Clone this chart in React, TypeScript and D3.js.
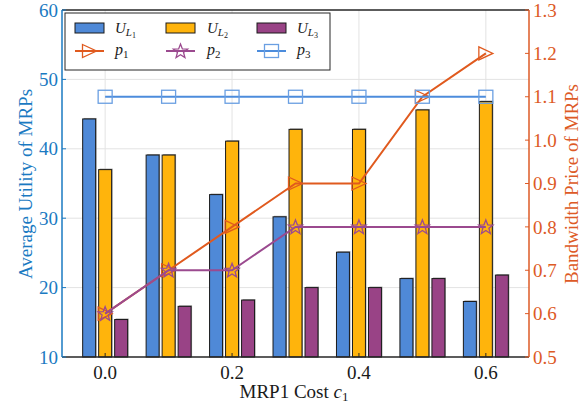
import React from "react";
import * as d3 from "d3";

const costs = [0.0, 0.1, 0.2, 0.3, 0.4, 0.5, 0.6];
const uL1 = [44.3, 39.1, 33.4, 30.2, 25.1, 21.3, 18.0];
const uL2 = [37.0, 39.1, 41.1, 42.8, 42.8, 45.6, 46.8];
const uL3 = [15.4, 17.3, 18.2, 20.0, 20.0, 21.3, 21.8];
const p1 = [0.6, 0.7, 0.8, 0.9, 0.9, 1.1, 1.2];
const p2 = [0.6, 0.7, 0.7, 0.8, 0.8, 0.8, 0.8];
const p3 = [1.1, 1.1, 1.1, 1.1, 1.1, 1.1, 1.1];
const leftTicks = [10, 20, 30, 40, 50, 60];
const rightTicks = [0.5, 0.6, 0.7, 0.8, 0.9, 1.0, 1.1, 1.2, 1.3];
const xTicks = [0.0, 0.2, 0.4, 0.6];

const W = 585, H = 408;
const L = 62, R = 529, T = 10, B = 357;
const FONT = "Liberation Serif";
const LEFT_C = "#1A7AC2";
const RIGHT_C = "#DD5A26";
const BAR_COLORS = ["#4F89D7", "#FFB40C", "#994386"];
const LINE_COLORS = ["#E05A1E", "#9B4A8F", "#4C8CDC"];

function star(cx: number, cy: number, ro: number, ri: number) {
  const pts: [number, number][] = [];
  for (let i = 0; i < 10; i++) {
    const r = i % 2 === 0 ? ro : ri;
    const a = -Math.PI / 2 + (i * Math.PI) / 5;
    pts.push([cx + r * Math.cos(a), cy + r * Math.sin(a)]);
  }
  return "M" + pts.map((p) => p.join(",")).join("L") + "Z";
}
function tri(cx: number, cy: number) {
  return `M${cx - 7},${cy - 6.5}L${cx + 7},${cy}L${cx - 7},${cy + 6.5}Z`;
}
function Marker({ kind, x, y, color }: { kind: number; x: number; y: number; color: string }) {
  if (kind === 0) return <path d={tri(x, y)} fill="none" stroke={color} strokeWidth={1.3} />;
  if (kind === 1) return <path d={star(x, y + 0.5, 7.5, 3.2)} fill="none" stroke={color} strokeWidth={1.3} />;
  return <rect x={x - 7} y={y - 6.5} width={14} height={13} fill="none" stroke="#6A9FE2" strokeWidth={1.3} />;
}

const txt = { fontFamily: FONT } as React.CSSProperties;

export default function App() {
  const x = d3.scaleLinear().domain([-0.068, 0.668]).range([L, R]);
  const yL = d3.scaleLinear().domain([10, 60]).range([B, T]);
  const yR = d3.scaleLinear().domain([0.5, 1.3]).range([B, T]);
  const sub = d3.scaleBand<string>().domain(["a", "b", "c"]).range([-24, 24]).paddingInner(0.19).paddingOuter(0.095);
  const barSeries = [uL1, uL2, uL3];
  const lineSeries = [p1, p2, p3];
  const keys = ["a", "b", "c"];
  const lineGen = (vals: number[]) =>
    d3.line<number>().x((_, i) => x(costs[i])).y((v) => yR(v))(vals) || "";

  return (
    <svg width={W} height={H} style={{ position: "absolute", left: 0, top: 0, background: "#fff", fontFamily: FONT }}>
      {/* grid */}
      {leftTicks.slice(1, -1).map((t) => (
        <line key={"gy" + t} x1={L} x2={R} y1={yL(t)} y2={yL(t)} stroke="#e3e3e3" strokeWidth={1} />
      ))}
      {xTicks.map((t) => (
        <line key={"gx" + t} x1={x(t)} x2={x(t)} y1={T} y2={B} stroke="#e3e3e3" strokeWidth={1} />
      ))}
      {/* bars */}
      {barSeries.map((s, si) =>
        s.map((v, i) => {
          const bx = x(costs[i]) + (sub(keys[si]) as number);
          const by = yL(v);
          return (
            <g key={`b${si}-${i}`}>
              <rect x={bx + 1} y={by - 1} width={sub.bandwidth()} height={B - by + 1} fill="#9a9a9a" />
              <rect x={bx} y={by} width={sub.bandwidth()} height={B - by} fill={BAR_COLORS[si]} stroke="#1a1a1a" strokeWidth={1} />
            </g>
          );
        })
      )}
      {/* lines */}
      {lineSeries.map((s, si) => (
        <g key={"l" + si}>
          <path d={lineGen(s)} fill="none" stroke={LINE_COLORS[si]} strokeWidth={2} />
          {s.map((v, i) => (
            <Marker key={i} kind={si} x={x(costs[i])} y={yR(v)} color={LINE_COLORS[si]} />
          ))}
        </g>
      ))}
      {/* frame */}
      <line x1={L} x2={R} y1={T} y2={T} stroke="#262626" strokeWidth={1.5} />
      <line x1={L} x2={R} y1={B} y2={B} stroke="#262626" strokeWidth={1.5} />
      <line x1={L} x2={L} y1={T} y2={B} stroke={LEFT_C} strokeWidth={1.5} />
      <line x1={R} x2={R} y1={T} y2={B} stroke={RIGHT_C} strokeWidth={1.5} />
      {/* left ticks */}
      {leftTicks.map((t) => (
        <g key={"lt" + t}>
          <line x1={L} x2={L + 4} y1={yL(t)} y2={yL(t)} stroke={LEFT_C} strokeWidth={1} />
          <text style={txt} x={L - 4} y={yL(t)} dy="0.35em" textAnchor="end" fontSize={19} fill={LEFT_C}>{t}</text>
        </g>
      ))}
      {/* right ticks */}
      {rightTicks.map((t) => (
        <g key={"rt" + t}>
          <line x1={R - 4} x2={R} y1={yR(t)} y2={yR(t)} stroke={RIGHT_C} strokeWidth={1} />
          <text style={txt} x={R + 4} y={yR(t)} dy="0.35em" textAnchor="start" fontSize={19} fill={RIGHT_C}>{t.toFixed(1)}</text>
        </g>
      ))}
      {/* x ticks */}
      {xTicks.map((t) => (
        <g key={"xt" + t}>
          <line x1={x(t)} x2={x(t)} y1={B} y2={B - 4} stroke="#262626" strokeWidth={1} />
          <text style={txt} x={x(t)} y={B + 22} textAnchor="middle" fontSize={19} fill="#1a1a1a">{t.toFixed(1)}</text>
        </g>
      ))}
      {/* axis titles */}
      <text style={txt} transform={`translate(25,184) rotate(-90)`} textAnchor="middle" dy="0.35em" fontSize={19} fill={LEFT_C}>
        Average Utility of MRPs
      </text>
      <text style={txt} transform={`translate(571,184) rotate(-90)`} textAnchor="middle" dy="0.35em" fontSize={19} fill={RIGHT_C}>
        Bandwidth Price of MRPs
      </text>
      <text style={txt} x={294} y={398} textAnchor="middle" fontSize={19} fill="#1a1a1a">
        MRP1 Cost <tspan fontStyle="italic">c</tspan><tspan fontSize={13} dy={3}>1</tspan>
      </text>
      {/* legend */}
      <g>
        <rect x={65} y={13} width={265} height={57} fill="#fff" stroke="#262626" strokeWidth={1} />
        {[0, 1, 2].map((k) => {
          const sx = [75, 166, 257][k];
          const tx = [115, 207, 297][k];
          return (
            <g key={"lg" + k}>
              <rect x={sx} y={23} width={29} height={10} fill={BAR_COLORS[k]} stroke="#1a1a1a" strokeWidth={1} />
              <text style={txt} x={tx} y={33} fontSize={15} fill="#1a1a1a" fontStyle="italic">
                U<tspan fontSize={11} dy={3}>L</tspan><tspan fontSize={8} dy={2} fontStyle="normal">{k + 1}</tspan>
              </text>
              <line x1={sx} x2={sx + 29} y1={51} y2={51} stroke={LINE_COLORS[k]} strokeWidth={2} />
              <Marker kind={k} x={sx + 14.5} y={51} color={LINE_COLORS[k]} />
              <text style={txt} x={tx} y={55} fontSize={16} fill="#1a1a1a" fontStyle="italic">
                p<tspan fontSize={11} dy={3} fontStyle="normal">{k + 1}</tspan>
              </text>
            </g>
          );
        })}
      </g>
    </svg>
  );
}
